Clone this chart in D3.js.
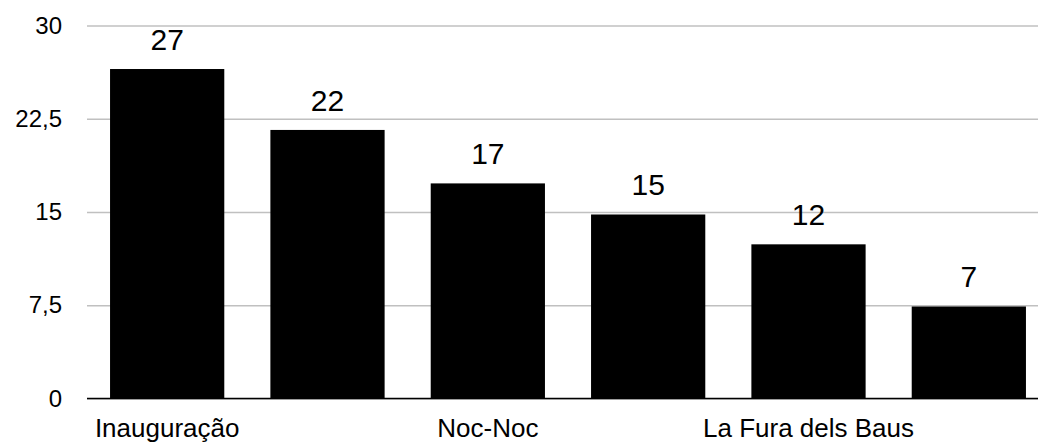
<!DOCTYPE html>
<html>
<head>
<meta charset="utf-8">
<script src="https://cdn.jsdelivr.net/npm/d3@7"></script>
<style>
  body { margin: 0; background: #fff; }
  svg { display: block; font-family: "Liberation Sans", Arial, sans-serif; }
</style>
</head>
<body>
<svg></svg>
<script>
// categories (only every other label is shown in the original chart)
var categories = ["Inauguração", "", "Noc-Noc", "", "La Fura dels Baus", ""];
var values = [26.5, 21.6, 17.3, 14.8, 12.4, 7.4];
var yTicks = [0, 7.5, 15, 22.5, 30];

var svgW = 1038, svgH = 446;
var svg = d3.select("svg").attr("width", svgW).attr("height", svgH);

var plotLeft = 87, plotRight = 1049, plotTop = 25.5, plotBottom = 398.5;

var xScale = d3.scaleBand()
  .domain(d3.range(values.length))
  .range([plotLeft, plotRight])
  .paddingInner(0.2875)
  .paddingOuter(0.14375);

var yScale = d3.scaleLinear()
  .domain([0, 30])
  .range([plotBottom, plotTop]);

var fmt = function(d) { return String(d).replace(".", ","); };

// gridlines + y labels
var yAxis = svg.append("g")
  .attr("transform", "translate(" + plotLeft + ",0)")
  .call(d3.axisLeft(yScale).tickValues(yTicks).tickFormat(fmt)
    .tickSize(-(svgW - plotLeft)).tickPadding(25));
yAxis.select(".domain").remove();
yAxis.selectAll(".tick line").attr("stroke", "#c0c0c0").attr("stroke-width", 1.3);
yAxis.selectAll(".tick text")
  .attr("fill", "#000")
  .style("font-size", "24px")
  .style("font-family", "'Liberation Sans', Arial, sans-serif");

// bars
svg.selectAll("rect.bar")
  .data(values)
  .enter()
  .append("rect")
  .attr("class", "bar")
  .attr("x", function(d, i) { return xScale(i); })
  .attr("y", function(d) { return yScale(d); })
  .attr("width", xScale.bandwidth())
  .attr("height", function(d) { return yScale(0) - yScale(d); })
  .attr("fill", "#000");

// value labels
svg.selectAll("text.val")
  .data(values)
  .enter()
  .append("text")
  .attr("class", "val")
  .attr("x", function(d, i) { return xScale(i) + xScale.bandwidth() / 2; })
  .attr("y", function(d) { return yScale(d) - 19; })
  .attr("text-anchor", "middle")
  .style("font-size", "30px")
  .attr("fill", "#000")
  .text(function(d) { return Math.round(d); });

// x axis (baseline + category labels)
var xAxis = svg.append("g")
  .attr("transform", "translate(0," + plotBottom + ")")
  .call(d3.axisBottom(xScale).tickSize(0).tickPadding(20)
    .tickFormat(function(i) { return categories[i]; }));
xAxis.select(".domain").remove();
xAxis.selectAll(".tick text")
  .attr("fill", "#000")
  .style("font-size", "26px")
  .style("font-family", "'Liberation Sans', Arial, sans-serif");

svg.append("line")
  .attr("x1", plotLeft).attr("x2", svgW)
  .attr("y1", yScale(0)).attr("y2", yScale(0))
  .attr("stroke", "#000").attr("stroke-width", 1.5);
</script>
</body>
</html>
